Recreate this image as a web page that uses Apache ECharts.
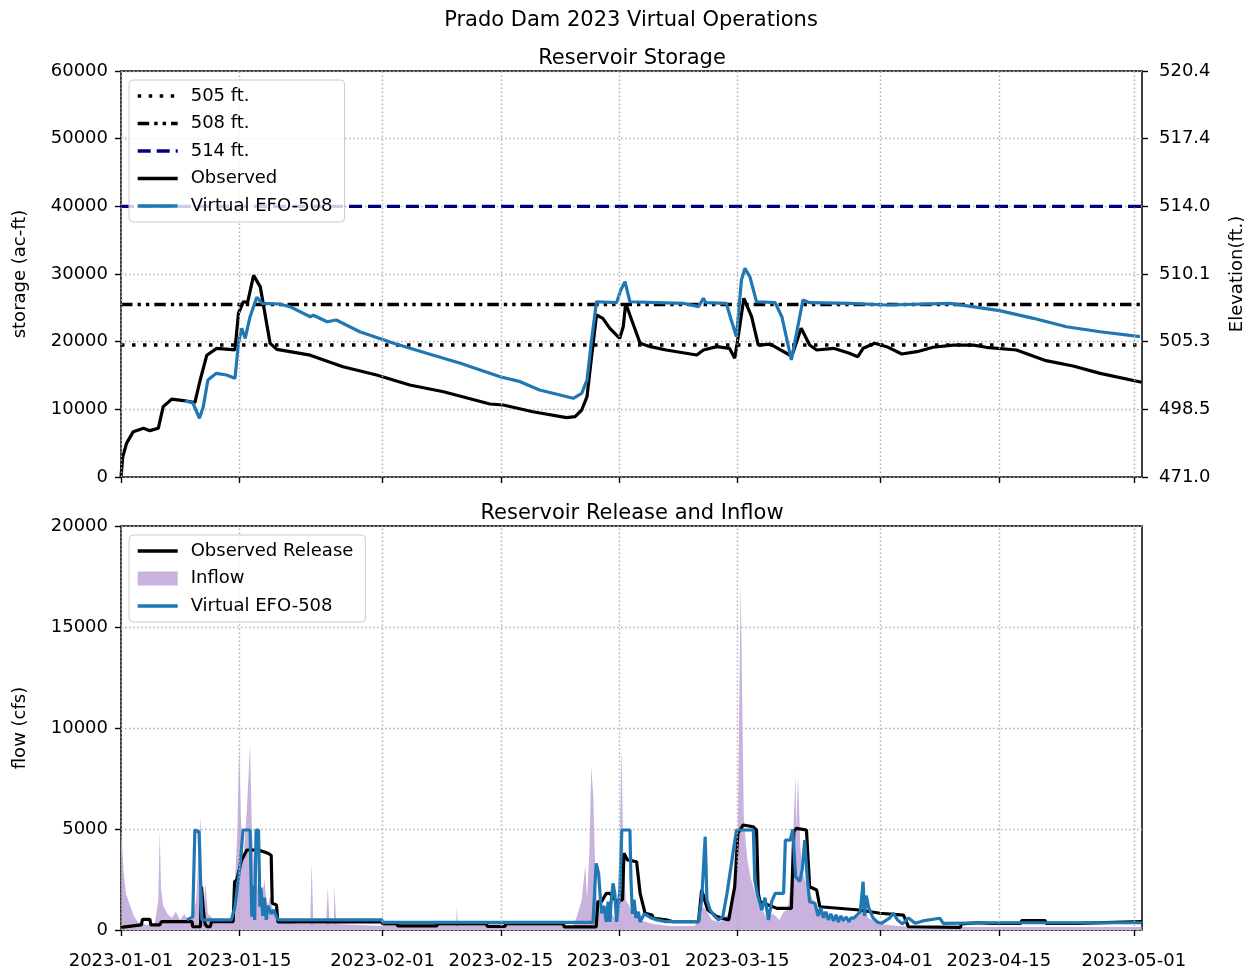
<!DOCTYPE html>
<html>
<head>
<meta charset="utf-8">
<script src="https://cdn.jsdelivr.net/npm/echarts@6/dist/echarts.min.js"></script>
<style>
  html, body { margin: 0; padding: 0; background: #fff; }
  #chart { width: 1247px; height: 969px; }
</style>
</head>
<body>
<div id="chart"></div>
<script>
// ---- axis ticks ----
const dateTicks = ['2023-01-01', '2023-01-15', '2023-02-01', '2023-02-15', '2023-03-01',
                   '2023-03-15', '2023-04-01', '2023-04-15', '2023-05-01'];
const xStart = '2023-01-01 00:00';
const xEnd = '2023-05-01 23:00';
const elevationLabels = ['471.0', '498.5', '505.3', '510.1', '514.0', '517.4', '520.4'];

// ---- reference pool levels (storage, ac-ft) ----
const levelNames = ['505 ft.', '508 ft.', '514 ft.'];
const levelStorage = [19500, 25500, 40000];

// ---- storage (ac-ft) ----
const observedStorage = [
  ['01-01 00:00', 0], ['01-01 05:00', 3000], ['01-01 16:00', 5000], ['01-02 11:00', 6700],
  ['01-03 16:00', 7200], ['01-04 10:00', 6850], ['01-05 10:00', 7200], ['01-06 00:00', 10400],
  ['01-07 00:00', 11500], ['01-08 10:00', 11300], ['01-09 18:00', 11000], ['01-10 09:00', 14300],
  ['01-11 04:00', 18000], ['01-12 08:00', 19000], ['01-14 12:00', 18800], ['01-14 22:00', 24200],
  ['01-15 12:00', 25900], ['01-16 00:00', 25800], ['01-16 17:00', 29800], ['01-17 12:00', 28100],
  ['01-18 16:00', 19750], ['01-19 11:00', 18870], ['01-23 10:00', 18000], ['01-27 07:00', 16300],
  ['01-31 07:00', 15070], ['02-04 05:00', 13600], ['02-08 05:00', 12600], ['02-13 17:00', 10790],
  ['02-15 07:00', 10640], ['02-18 19:00', 9650], ['02-22 19:00', 8770], ['02-23 19:00', 8920],
  ['02-24 14:00', 9900], ['02-25 05:00', 11870], ['02-25 18:00', 17780], ['02-26 08:00', 23940],
  ['02-27 02:00', 23450], ['02-27 22:00', 21970], ['03-01 02:00', 20500], ['03-01 12:00', 22200],
  ['03-01 19:00', 25670], ['03-02 12:00', 23200], ['03-03 12:00', 19760], ['03-04 17:00', 19260],
  ['03-06 14:00', 18770], ['03-10 05:00', 18030], ['03-11 00:00', 18770], ['03-12 14:00', 19260],
  ['03-14 02:00', 19020], ['03-14 17:00', 17540], ['03-15 00:00', 19760], ['03-15 19:00', 26400],
  ['03-16 17:00', 23690], ['03-17 12:00', 19500], ['03-18 22:00', 19650], ['03-21 05:00', 18030],
  ['03-21 14:00', 18280], ['03-22 14:00', 21970], ['03-23 14:00', 19500], ['03-24 10:00', 18770],
  ['03-26 10:00', 19020], ['03-28 07:00', 18280], ['03-29 07:00', 17780], ['03-29 22:00', 19020],
  ['03-31 07:00', 19760], ['04-01 17:00', 19260], ['04-03 12:00', 18180], ['04-05 07:00', 18520],
  ['04-07 05:00', 19170], ['04-09 14:00', 19500], ['04-12 00:00', 19500], ['04-13 12:00', 19170],
  ['04-17 02:00', 18770], ['04-20 14:00', 17190], ['04-23 19:00', 16400], ['04-27 00:00', 15320],
  ['05-01 22:00', 14000]
];
const virtualStorage = [
  ['01-08 14:00', 11300], ['01-09 13:00', 10890], ['01-10 07:00', 8670], ['01-10 18:00', 10390],
  ['01-11 07:00', 14330], ['01-12 07:00', 15320], ['01-13 12:00', 15070], ['01-14 12:00', 14580],
  ['01-14 22:00', 19760], ['01-15 07:00', 21970], ['01-15 17:00', 20500], ['01-16 07:00', 23690],
  ['01-17 02:00', 26550], ['01-17 17:00', 25670], ['01-19 19:00', 25570], ['01-21 00:00', 25170],
  ['01-23 10:00', 23690], ['01-23 19:00', 23900], ['01-25 10:00', 22950], ['01-26 12:00', 23200],
  ['01-29 07:00', 21470], ['02-02 07:00', 19760], ['02-06 05:00', 18280], ['02-10 05:00', 16800],
  ['02-14 22:00', 14820], ['02-17 07:00', 14090], ['02-19 14:00', 12860], ['02-23 14:00', 11630],
  ['02-24 14:00', 12370], ['02-25 05:00', 14330], ['02-25 18:00', 20250], ['02-26 08:00', 25900],
  ['02-28 17:00', 25760], ['03-01 05:00', 27630], ['03-01 17:00', 28860], ['03-02 07:00', 25900],
  ['03-08 14:00', 25670], ['03-10 10:00', 25170], ['03-11 00:00', 26400], ['03-11 07:00', 25760],
  ['03-13 17:00', 25670], ['03-14 07:00', 23200], ['03-14 22:00', 20740], ['03-15 12:00', 29110],
  ['03-15 22:00', 30840], ['03-16 12:00', 29600], ['03-17 07:00', 25900], ['03-19 12:00', 25760],
  ['03-20 07:00', 23690], ['03-21 10:00', 17290], ['03-22 19:00', 26150], ['03-23 14:00', 25760],
  ['03-28 07:00', 25670], ['04-01 17:00', 25420], ['04-09 05:00', 25670], ['04-15 02:00', 24580],
  ['04-19 02:00', 23450], ['04-23 00:00', 22200], ['04-27 00:00', 21470], ['05-01 17:00', 20740]
];

// ---- flows (cfs) ----
const observedRelease = [
  ['01-01 00:00', 130], ['01-03 10:00', 250], ['01-03 13:00', 530], ['01-04 10:00', 530],
  ['01-04 13:00', 250], ['01-05 14:00', 250], ['01-05 19:00', 410], ['01-09 10:00', 410],
  ['01-09 12:00', 160], ['01-10 10:00', 160], ['01-10 13:00', 2140], ['01-10 18:00', 1000],
  ['01-10 23:00', 300], ['01-11 05:00', 160], ['01-11 14:00', 160], ['01-11 17:00', 410],
  ['01-14 07:00', 410], ['01-14 11:00', 2390], ['01-14 17:00', 2470], ['01-15 07:00', 3470],
  ['01-15 22:00', 3960], ['01-17 07:00', 3960], ['01-18 10:00', 3800], ['01-18 19:00', 3700],
  ['01-18 22:00', 1320], ['01-19 10:00', 1240], ['01-19 14:00', 400], ['01-31 22:00', 400],
  ['02-01 00:00', 300], ['02-02 17:00', 300], ['02-02 19:00', 200], ['02-07 10:00', 200],
  ['02-07 12:00', 300], ['02-13 07:00', 300], ['02-13 10:00', 180], ['02-15 12:00', 180],
  ['02-15 14:00', 300], ['02-22 10:00', 300], ['02-22 12:00', 150], ['02-26 07:00', 150],
  ['02-26 12:00', 1400], ['02-26 22:00', 1400], ['02-27 12:00', 1810], ['02-27 22:00', 1810],
  ['02-28 17:00', 1400], ['03-01 10:00', 1500], ['03-01 14:00', 3800], ['03-02 00:00', 3470],
  ['03-03 02:00', 3380], ['03-03 12:00', 1810], ['03-04 02:00', 830], ['03-04 22:00', 740],
  ['03-05 02:00', 580], ['03-06 14:00', 500], ['03-07 10:00', 410], ['03-10 10:00', 410],
  ['03-10 19:00', 1980], ['03-11 12:00', 1000], ['03-12 14:00', 660], ['03-14 00:00', 500],
  ['03-14 10:00', 1490], ['03-14 17:00', 2140], ['03-15 02:00', 4790], ['03-15 17:00', 5200],
  ['03-16 22:00', 5110], ['03-17 07:00', 4950], ['03-17 12:00', 1810], ['03-17 17:00', 1400],
  ['03-19 17:00', 1070], ['03-21 10:00', 1070], ['03-21 17:00', 4870], ['03-22 00:00', 5030],
  ['03-23 05:00', 4950], ['03-23 14:00', 2140], ['03-24 10:00', 1980], ['03-24 19:00', 1150],
  ['03-29 12:00', 990], ['03-31 22:00', 830], ['04-03 17:00', 740], ['04-04 07:00', 160],
  ['04-10 10:00', 130], ['04-10 14:00', 300], ['04-12 10:00', 360], ['04-14 00:00', 330],
  ['04-17 14:00', 330], ['04-17 17:00', 460], ['04-20 12:00', 460], ['04-20 14:00', 330],
  ['04-24 07:00', 330], ['04-24 10:00', 410], ['05-01 22:00', 410]
];
const virtualRelease = [
  ['01-08 19:00', 500], ['01-09 12:00', 650], ['01-09 18:00', 4950], ['01-10 06:00', 4870],
  ['01-10 11:00', 2000], ['01-10 14:00', 500], ['01-14 02:00', 500], ['01-14 12:00', 1150],
  ['01-15 02:00', 3140], ['01-15 11:00', 4950], ['01-16 07:00', 4950], ['01-16 12:00', 660],
  ['01-16 17:00', 2200], ['01-16 20:00', 500], ['01-17 00:00', 4950], ['01-17 07:00', 4950],
  ['01-17 11:00', 1150], ['01-17 14:00', 2100], ['01-17 19:00', 700], ['01-18 00:00', 1600],
  ['01-18 05:00', 500], ['01-18 10:00', 1200], ['01-18 19:00', 800], ['01-19 02:00', 1000],
  ['01-19 14:00', 500], ['01-31 22:00', 500], ['02-01 00:00', 380], ['02-25 22:00', 380],
  ['02-26 07:00', 3300], ['02-26 14:00', 2800], ['02-26 22:00', 830], ['02-27 05:00', 1200],
  ['02-27 12:00', 400], ['02-27 17:00', 1400], ['02-27 22:00', 400], ['02-28 02:00', 1500],
  ['02-28 07:00', 2310], ['02-28 12:00', 1800], ['02-28 17:00', 400], ['02-28 22:00', 1200],
  ['03-01 02:00', 1900], ['03-01 08:00', 4950], ['03-02 07:00', 4950], ['03-02 10:00', 2470],
  ['03-02 14:00', 800], ['03-02 19:00', 1500], ['03-03 00:00', 600], ['03-03 07:00', 900],
  ['03-03 12:00', 400], ['03-04 00:00', 800], ['03-04 19:00', 600], ['03-05 12:00', 500],
  ['03-06 14:00', 410], ['03-10 10:00', 410], ['03-10 19:00', 1500], ['03-11 05:00', 4620],
  ['03-11 10:00', 1490], ['03-11 19:00', 1000], ['03-12 07:00', 700], ['03-12 19:00', 500],
  ['03-13 07:00', 660], ['03-13 19:00', 1810], ['03-14 12:00', 3800], ['03-14 22:00', 4950],
  ['03-16 22:00', 4950], ['03-17 02:00', 2470], ['03-17 10:00', 1700], ['03-17 22:00', 990],
  ['03-18 07:00', 1600], ['03-18 17:00', 500], ['03-19 02:00', 1400], ['03-19 12:00', 1810],
  ['03-20 12:00', 1810], ['03-20 17:00', 4450], ['03-21 07:00', 4450], ['03-21 14:00', 4980],
  ['03-21 22:00', 2640], ['03-22 10:00', 2400], ['03-22 17:00', 3000], ['03-23 00:00', 4450],
  ['03-23 07:00', 2600], ['03-23 14:00', 1400], ['03-24 05:00', 1320], ['03-24 14:00', 700],
  ['03-24 22:00', 1100], ['03-25 05:00', 600], ['03-25 12:00', 900], ['03-25 19:00', 500],
  ['03-26 02:00', 800], ['03-26 10:00', 450], ['03-26 17:00', 750], ['03-27 00:00', 400],
  ['03-27 07:00', 700], ['03-27 14:00', 450], ['03-27 22:00', 650], ['03-28 05:00', 400],
  ['03-28 12:00', 600], ['03-28 19:00', 580],
  ['03-29 14:00', 900], ['03-29 22:00', 2390], ['03-30 02:00', 700], ['03-30 07:00', 1700],
  ['03-30 14:00', 1100], ['03-31 02:00', 600], ['03-31 14:00', 400], ['04-01 02:00', 330],
  ['04-02 02:00', 600], ['04-02 12:00', 830], ['04-03 00:00', 500], ['04-03 14:00', 300],
  ['04-04 07:00', 600], ['04-05 02:00', 330], ['04-06 00:00', 450], ['04-08 00:00', 580],
  ['04-08 10:00', 330], ['04-14 07:00', 360], ['05-01 22:00', 360]
];
const inflow = [
  ['01-01 00:00', 4950], ['01-01 02:00', 4500], ['01-01 07:00', 3000], ['01-01 14:00', 1800],
  ['01-02 00:00', 1300], ['01-02 12:00', 700], ['01-03 00:00', 400], ['01-04 00:00', 250],
  ['01-05 00:00', 300], ['01-05 10:00', 1500], ['01-05 14:00', 4900], ['01-05 18:00', 2000],
  ['01-06 00:00', 1200], ['01-06 12:00', 800], ['01-07 00:00', 600], ['01-07 12:00', 900],
  ['01-08 00:00', 500], ['01-08 12:00', 800], ['01-09 00:00', 400], ['01-09 12:00', 700],
  ['01-09 22:00', 1500], ['01-10 05:00', 4000], ['01-10 10:00', 5600], ['01-10 14:00', 2500],
  ['01-10 19:00', 1200], ['01-11 00:00', 2300], ['01-11 07:00', 800], ['01-11 19:00', 600],
  ['01-12 12:00', 400], ['01-13 12:00', 350], ['01-14 00:00', 500], ['01-14 10:00', 1500],
  ['01-14 19:00', 5000], ['01-15 00:00', 9200], ['01-15 05:00', 5500], ['01-15 12:00', 3500],
  ['01-15 22:00', 6000], ['01-16 07:00', 9200], ['01-16 12:00', 5000], ['01-16 19:00', 3000],
  ['01-17 02:00', 2400], ['01-17 05:00', 2000], ['01-17 09:00', 2600], ['01-17 14:00', 1500],
  ['01-17 19:00', 1900], ['01-18 00:00', 2500], ['01-18 05:00', 1500], ['01-18 10:00', 1200],
  ['01-18 16:00', 1700], ['01-19 00:00', 900], ['01-19 12:00', 600], ['01-20 12:00', 400],
  ['01-22 00:00', 300], ['01-23 10:00', 300], ['01-23 14:00', 3300], ['01-23 19:00', 300],
  ['01-25 07:00', 300], ['01-25 12:00', 2100], ['01-25 17:00', 300], ['01-26 05:00', 300],
  ['01-26 07:00', 2100], ['01-26 12:00', 300], ['02-01 00:00', 200], ['02-09 17:00', 200],
  ['02-09 19:00', 1200], ['02-09 22:00', 200], ['02-23 12:00', 200], ['02-24 00:00', 660],
  ['02-24 14:00', 1500], ['02-25 00:00', 3200], ['02-25 05:00', 1500], ['02-25 12:00', 4000],
  ['02-25 17:00', 8100], ['02-25 23:00', 6600], ['02-26 05:00', 2500], ['02-26 12:00', 800],
  ['02-27 00:00', 1100], ['02-27 12:00', 500], ['02-28 00:00', 900], ['02-28 12:00', 600],
  ['03-01 00:00', 2000], ['03-01 07:00', 9100], ['03-01 12:00', 4000], ['03-01 19:00', 1500],
  ['03-02 05:00', 1200], ['03-02 12:00', 800], ['03-03 00:00', 900], ['03-03 12:00', 500],
  ['03-05 00:00', 300], ['03-07 00:00', 200], ['03-10 00:00', 200], ['03-10 19:00', 1200],
  ['03-11 07:00', 1000], ['03-12 00:00', 500], ['03-13 00:00', 400], ['03-14 00:00', 800],
  ['03-14 19:00', 2500], ['03-15 02:00', 5100], ['03-15 10:00', 17300], ['03-15 14:00', 11700],
  ['03-15 19:00', 5400], ['03-16 05:00', 3470], ['03-16 14:00', 2600], ['03-16 22:00', 2140],
  ['03-17 06:00', 1600], ['03-17 14:00', 1150], ['03-18 00:00', 1000], ['03-18 12:00', 600],
  ['03-19 06:00', 800], ['03-20 00:00', 500], ['03-20 12:00', 900], ['03-21 00:00', 1000],
  ['03-21 12:00', 3000], ['03-21 17:00', 5500], ['03-21 22:00', 7750], ['03-22 00:00', 5000],
  ['03-22 05:00', 7600], ['03-22 12:00', 4000], ['03-22 19:00', 2800], ['03-23 00:00', 2500],
  ['03-23 07:00', 2200], ['03-23 14:00', 1810], ['03-24 00:00', 1500], ['03-24 12:00', 1100],
  ['03-25 06:00', 900], ['03-26 00:00', 600], ['03-27 00:00', 500], ['03-28 00:00', 400],
  ['03-29 12:00', 700], ['03-30 00:00', 1500], ['03-30 12:00', 600], ['04-01 00:00', 300],
  ['04-03 00:00', 200], ['04-06 00:00', 150], ['05-01 22:00', 150]
];

// ---- chart ----
const FONT = 'DejaVu Sans';
const GRID_COLOR = '#b0b0b0';
const parseT = s => echarts.number.parseDate(s).getTime();
const withYear = rows => rows.map(r => [parseT('2023-' + r[0]), r[1]]);
const tickTimes = dateTicks.map(parseT);
const tMin = parseT(xStart), tMax = parseT(xEnd);

const tickStyle = { show: true, inside: false, length: 6, lineStyle: { color: '#000', width: 1.4 } };
const labelStyle = { color: '#000', fontFamily: FONT, fontSize: 18 };
const dotted = { color: GRID_COLOR, width: 1.4, type: [1.5, 2.5] };

// date axis: a plain value axis over epoch milliseconds, labelled on the 1st and 15th
function dateAxis(gridIndex, showLabels) {
  return {
    type: 'value', gridIndex: gridIndex, min: tMin, max: tMax, scale: true,
    axisLine: { show: false },
    axisTick: Object.assign({ customValues: tickTimes }, tickStyle),
    axisLabel: Object.assign({
      show: showLabels, customValues: tickTimes, margin: 22, hideOverlap: false,
      formatter: v => echarts.time.format(v, '{yyyy}-{MM}-{dd}', false)
    }, labelStyle),
    splitLine: { show: false }
  };
}

function valueAxis(gridIndex, max, interval, name, gap) {
  return {
    type: 'value', gridIndex: gridIndex, min: 0, max: max, interval: interval,
    name: name, nameLocation: 'middle', nameGap: gap, nameRotate: 90,
    nameTextStyle: labelStyle,
    axisLine: { show: false },
    axisTick: tickStyle,
    axisLabel: Object.assign({ margin: 13, formatter: v => String(v) }, labelStyle),
    splitLine: { show: true, lineStyle: dotted }
  };
}

const vGridLines = {
  silent: true, symbol: 'none', animation: false,
  label: { show: false }, lineStyle: dotted,
  data: tickTimes.map(t => ({ xAxis: t }))
};

const levelStyles = [
  { color: '#000000', width: 3.4, type: [3.5, 7.5] },
  { color: '#000000', width: 3.4, type: [11.5, 5, 3.4, 5, 3.4, 5] },
  { color: '#000080', width: 3.4, type: [13, 6] }
];

const levelSeries = levelNames.map((name, i) => {
  const s = {
    name: name, type: 'line', xAxisIndex: 0, yAxisIndex: 0,
    symbol: 'none', z: 2,
    lineStyle: levelStyles[i], itemStyle: { color: levelStyles[i].color },
    data: [[tMin, levelStorage[i]], [tMax, levelStorage[i]]]
  };
  if (i === 0) s.markLine = vGridLines;
  return s;
});

const BLUE = '#1f77b4';
const PURPLE = '#c9b3de';

const legendBase = {
  orient: 'vertical', itemWidth: 40, itemHeight: 14, itemGap: 7.5,
  backgroundColor: 'rgba(255,255,255,0.8)', borderColor: '#cccccc', borderWidth: 1,
  borderRadius: 4, z: 20,
  itemStyle: { opacity: 0 },
  lineStyle: { width: 3.4 },
  textStyle: { color: '#000', fontFamily: FONT, fontSize: 18, lineHeight: 20, padding: [0, 0, 0, 8] }
};

const titleStyle = { fontFamily: FONT, fontSize: 21, fontWeight: 'normal', color: '#000' };

const gridBase = { left: 121, right: 105, show: true, borderColor: '#000', borderWidth: 1.5,
                   backgroundColor: 'transparent', containLabel: false, outerBoundsMode: 'none' };

const option = {
  animation: false,
  backgroundColor: '#fff',
  title: [
    { text: 'Prado Dam 2023 Virtual Operations', left: 631, top: 10, textAlign: 'center', padding: 0, textStyle: titleStyle },
    { text: 'Reservoir Storage', left: 632, top: 48, textAlign: 'center', padding: 0, textStyle: titleStyle },
    { text: 'Reservoir Release and Inflow', left: 632, top: 503, textAlign: 'center', padding: 0, textStyle: titleStyle }
  ],
  grid: [
    Object.assign({ top: 71, height: 406 }, gridBase),
    Object.assign({ top: 526, height: 404 }, gridBase)
  ],
  xAxis: [dateAxis(0, false), dateAxis(1, true)],
  yAxis: [
    valueAxis(0, 60000, 10000, 'storage (ac-ft)', 92),
    {
      type: 'value', gridIndex: 0, position: 'right', min: 0, max: 60000, interval: 10000,
      name: 'Elevation(ft.)', nameLocation: 'middle', nameGap: 86, nameRotate: 90,
      nameTextStyle: labelStyle,
      axisLine: { show: false }, axisTick: tickStyle,
      axisLabel: Object.assign({ margin: 17, formatter: v => elevationLabels[Math.round(v / 10000)] }, labelStyle),
      splitLine: { show: false }
    },
    valueAxis(1, 20000, 5000, 'flow (cfs)', 92)
  ],
  legend: [
    Object.assign({}, legendBase, {
      left: 129, top: 80, padding: [6, 12, 6, 7],
      data: levelNames.concat(['Observed', 'Virtual EFO-508'])
    }),
    Object.assign({}, legendBase, {
      left: 129, top: 535, padding: [6, 12, 6, 7],
      data: [
        'Observed Release',
        { name: 'Inflow', icon: 'rect', itemStyle: { color: PURPLE, opacity: 1 } },
        'Virtual EFO-508'
      ]
    })
  ],
  series: levelSeries.concat([
    {
      name: 'Observed', type: 'line', xAxisIndex: 0, yAxisIndex: 0, symbol: 'none', z: 3,
      lineStyle: { color: '#000', width: 3.2 }, itemStyle: { color: '#000' },
      data: withYear(observedStorage)
    },
    {
      name: 'Virtual EFO-508', type: 'line', xAxisIndex: 0, yAxisIndex: 0, symbol: 'none', z: 4,
      lineStyle: { color: BLUE, width: 3.2 }, itemStyle: { color: BLUE },
      data: withYear(virtualStorage)
    },
    {
      name: 'Inflow', type: 'line', xAxisIndex: 1, yAxisIndex: 2, symbol: 'none', z: 1,
      lineStyle: { width: 0, color: PURPLE }, itemStyle: { color: PURPLE },
      areaStyle: { color: PURPLE, opacity: 1 },
      data: withYear(inflow),
      markLine: vGridLines
    },
    {
      name: 'Observed Release', type: 'line', xAxisIndex: 1, yAxisIndex: 2, symbol: 'none', z: 3,
      lineStyle: { color: '#000', width: 3.2 }, itemStyle: { color: '#000' },
      data: withYear(observedRelease)
    },
    {
      name: 'Virtual EFO-508', type: 'line', xAxisIndex: 1, yAxisIndex: 2, symbol: 'none', z: 4,
      lineStyle: { color: BLUE, width: 3.2 }, itemStyle: { color: BLUE },
      data: withYear(virtualRelease)
    }
  ])
};

const chart = echarts.init(document.getElementById('chart'), null, { renderer: 'canvas' });
chart.setOption(option);
</script>
</body>
</html>
